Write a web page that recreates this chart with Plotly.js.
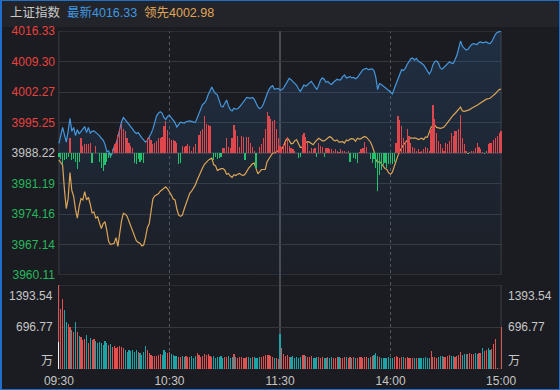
<!DOCTYPE html>
<html><head><meta charset="utf-8">
<script src="https://cdn.plot.ly/plotly-3.0.1.min.js"></script>
<style>
html,body{margin:0;padding:0;background:#1b1c21;}
#wrap{position:relative;width:560px;height:390px;overflow:hidden;}
#chart{width:560px;height:390px;}
#frame{position:absolute;left:0;top:0;width:560px;height:390px;box-sizing:border-box;border:1px solid #1f6fc8;border-left-width:2px;pointer-events:none;}
</style></head><body>
<div id="wrap"><div id="chart"></div><div id="frame"></div></div>
<script>
// ---------- data ----------
const indexName = '上证指数';
const prevClose = 3988.22;
const timeTicks = [0, 60, 120, 180, 240];
const timeLabels = ['09:30', '10:30', '11:30', '14:00', '15:00'];
const priceTicks = [4016.33, 4009.30, 4002.27, 3995.25, 3988.22, 3981.19, 3974.16, 3967.14, 3960.11];
const volTicks = [1393.54, 696.77];
const volUnit = '万';
const auctionVol = 453;

const price = [
3990.44,3992.22,3994.12,3992.42,3990.72,3993.22,3996.22,3993.22,3994.12,3992.22,
3993.62,3992.62,3993.12,3993.72,3994.32,3992.92,3994.12,3992.82,3993.22,3993.32,
3992.92,3992.72,3992.22,3991.62,3991.22,3990.22,3988.52,3988.72,3987.42,3988.22,
3989.72,3990.22,3992.22,3994.22,3995.42,3996.42,3995.92,3995.32,3994.92,3994.42,
3993.72,3993.12,3992.72,3992.92,3992.22,3991.72,3991.22,3990.72,3991.12,3991.82,
3992.72,3993.72,3995.22,3996.72,3997.42,3997.72,3997.42,3996.42,3995.92,3996.62,
3996.92,3996.42,3995.72,3995.22,3994.22,3994.92,3995.32,3995.22,3995.12,3995.42,
3995.52,3995.62,3995.52,3995.42,3995.22,3996.22,3997.22,3998.12,3999.42,3999.72,
4000.42,4001.62,4002.72,4003.42,4002.52,4001.92,4001.62,4000.52,3999.02,3998.82,
3999.62,4000.42,3999.12,3998.22,3997.92,3998.52,3998.32,3998.42,3998.82,3999.42,
4000.02,4000.52,4001.02,4000.92,4000.82,4001.02,4000.62,3999.72,3998.82,3998.42,
3998.72,3999.52,4000.82,4001.82,4002.82,4003.42,4003.72,4002.92,4003.02,4003.12,
4002.72,4002.82,4003.22,4003.92,4004.62,4005.42,4005.12,4004.62,4004.32,4003.82,
4003.02,4002.42,4003.12,4003.92,4003.62,4003.92,4004.42,4004.72,4004.12,4003.32,
4002.82,4003.82,4005.02,4005.52,4005.22,4004.52,4004.72,4004.22,4004.02,4004.52,
4004.82,4005.22,4005.02,4005.12,4005.82,4006.22,4005.52,4005.72,4005.82,4005.52,
4005.62,4005.32,4005.62,4006.22,4006.82,4007.42,4007.62,4007.72,4007.42,4007.52,
4007.62,4007.22,4005.72,4002.82,4004.22,4004.02,4003.72,4003.32,4002.92,4002.62,
4002.22,4001.82,4003.02,4004.22,4005.42,4006.52,4007.42,4007.22,4007.72,4008.62,
4009.42,4009.92,4010.12,4009.62,4010.02,4009.42,4009.12,4008.82,4008.52,4007.82,
4007.02,4006.42,4007.12,4008.52,4009.32,4009.42,4008.92,4007.82,4007.52,4007.92,
4008.22,4008.82,4009.22,4008.92,4008.82,4009.72,4010.72,4012.32,4014.02,4012.82,
4012.42,4011.92,4012.12,4012.82,4013.22,4013.42,4013.32,4013.22,4013.72,4013.82,
4013.62,4013.72,4013.82,4013.52,4013.42,4013.92,4014.92,4015.62,4016.02,4016.12,
4016.33];

const lead = [
3986.62,3986.12,3985.42,3979.72,3975.42,3977.72,3983.72,3979.62,3978.22,3975.22,
3973.22,3975.92,3977.72,3977.42,3979.32,3977.42,3978.02,3976.42,3974.42,3974.62,
3973.22,3973.52,3972.02,3970.82,3971.92,3972.42,3970.32,3967.82,3967.12,3967.22,
3967.42,3968.72,3966.72,3969.72,3972.62,3974.32,3974.12,3973.62,3972.42,3971.42,
3970.52,3968.92,3968.02,3967.62,3967.42,3966.82,3967.02,3968.72,3971.02,3971.92,
3974.72,3977.62,3978.32,3978.52,3978.82,3979.42,3979.82,3980.12,3980.42,3979.92,
3979.32,3978.52,3977.62,3977.42,3975.32,3973.92,3973.62,3973.92,3975.32,3976.62,
3978.02,3978.92,3979.42,3980.02,3980.82,3981.92,3983.02,3983.92,3984.82,3985.62,
3986.22,3986.52,3986.82,3987.02,3985.52,3985.32,3984.22,3984.42,3984.62,3984.62,
3984.32,3983.32,3983.52,3982.92,3982.62,3983.22,3983.02,3983.32,3983.52,3983.22,
3983.02,3983.32,3984.22,3984.72,3985.22,3985.72,3985.92,3984.82,3983.42,3983.92,
3984.42,3984.42,3984.42,3986.22,3986.92,3987.82,3988.22,3988.22,3988.42,3988.72,
3989.02,3989.22,3989.82,3991.02,3991.62,3991.12,3990.32,3990.42,3991.02,3991.32,
3990.42,3989.52,3989.52,3990.02,3990.62,3990.82,3990.72,3990.42,3990.12,3990.72,
3991.22,3991.62,3991.32,3991.02,3991.02,3991.32,3991.72,3992.02,3991.72,3991.22,
3991.02,3991.22,3990.72,3990.72,3990.82,3990.52,3991.22,3991.02,3991.42,3991.52,
3991.42,3990.92,3991.62,3991.42,3991.52,3991.82,3992.02,3991.82,3991.42,3990.82,
3989.92,3988.62,3986.72,3986.02,3986.32,3985.82,3985.12,3984.62,3984.42,3983.62,
3983.32,3983.82,3985.12,3986.62,3987.62,3988.62,3989.42,3990.12,3990.62,3991.22,
3991.62,3991.72,3991.62,3991.72,3991.62,3991.32,3991.52,3991.62,3991.32,3991.92,
3991.82,3993.02,3994.12,3994.52,3994.62,3994.12,3994.02,3993.92,3994.02,3994.22,
3994.72,3995.32,3995.82,3996.42,3996.92,3997.32,3997.82,3998.42,3998.82,3997.92,
3997.82,3997.92,3998.02,3998.22,3998.52,3998.72,3999.02,3999.22,3999.52,3999.82,
4000.02,4000.32,4000.62,4000.72,4000.82,4001.22,4001.52,4001.92,4002.42,4002.82,
4002.98];

const power = [
-3,-5,-9,-6,-5,-3,12,-6,-5,-7,
-13,-7,12,6,7,7,7,8,-8,0,
6,0,-7,-12,-15,-10,-7,-4,-4,3,
7,8,15,20,24,20,18,12,8,6,
4,-8,-9,-5,-7,-6,-8,0,12,13,
11,7,8,10,12,12,13,22,26,19,
12,11,11,10,8,-9,-8,6,5,6,
7,6,2,5,7,0,15,18,20,30,
24,23,22,0,-6,-3,-5,-4,-3,4,
4,12,5,4,12,23,19,14,5,14,
13,-6,13,13,8,5,2,-12,0,5,
7,12,20,34,30,28,26,27,20,12,
6,5,7,9,13,6,4,3,2,0,
-4,-3,15,16,13,9,2,4,3,4,
-3,8,6,5,-3,4,4,3,3,2,
3,2,1,3,2,2,1,2,-7,0,
-4,-5,-8,1,3,4,9,5,0,-5,
-8,-5,-12,-31,-18,-14,-10,-8,-12,-9,
-8,-9,-7,8,30,27,22,12,10,20,
14,8,5,4,2,3,1,2,3,5,
4,2,20,39,28,16,10,7,4,2,
8,7,10,16,14,18,18,20,31,12,
7,2,-1,1,2,2,4,8,5,3,
1,-1,2,7,8,8,11,12,14,16,
18];

const volume = [
1393.54,990,1156,979,785,746,702,647,619,785,
619,547,525,481,492,564,437,509,481,492,
470,426,453,437,398,470,426,398,415,371,
382,343,371,382,371,343,315,288,315,304,
315,288,315,288,260,232,288,382,315,260,
232,216,216,216,232,249,232,315,288,260,
288,249,232,216,216,205,194,216,194,216,
205,194,216,177,216,260,232,205,216,249,
232,249,216,194,216,183,194,205,216,188,
194,205,216,183,205,249,194,183,205,194,
188,177,199,194,183,205,194,177,188,199,
205,216,227,238,227,210,199,188,177,166,
580,343,249,216,232,205,194,216,188,205,
183,194,232,238,221,205,194,210,188,183,
199,205,188,194,177,188,199,183,194,188,
177,194,205,183,188,194,199,183,205,188,
194,183,177,194,205,188,199,194,183,205,
216,227,260,221,194,188,183,188,177,194,
183,188,205,210,199,188,205,199,188,194,
183,177,188,183,177,188,183,177,188,194,
183,188,304,199,194,188,205,210,221,199,
194,216,232,210,221,205,216,238,282,227,
243,254,249,260,243,254,265,249,260,271,
348,298,320,349,315,330,415,498,18,0,
700];

// ---------- styles ----------
const W = 560, H = 390;
const px = v => v / W;
const py = v => (H - v) / H;
const FONT = 'Liberation Sans, Arial, Noto Sans CJK SC, sans-serif';
const RED = '#e9413d', GREEN = '#26b85c', GRAY = '#c6c6c6';
const GRID = '#35373d';
const BLUE = '#4596dc', ORANGE = '#dca456';

const minutes = price.map((_, i) => i);
const yMax = priceTicks[0], yMin = priceTicks[priceTicks.length - 1];
const pct = p => (p - prevClose) / prevClose * 100;
const colorOf = p => p > prevClose + 1e-6 ? RED : (p < prevClose - 1e-6 ? GREEN : GRAY);
const priceText = priceTicks.map(p => `<span style="color:${colorOf(p)}">${p.toFixed(2)}</span>`);
const pctVals = priceTicks.map(pct);
const pctText = priceTicks.map(p => `<span style="color:${colorOf(p)}">${pct(p).toFixed(2)}%</span>`);

const volColors = volume.map((v, i) => {
  const prev = i === 0 ? prevClose : price[i - 1];
  if (price[i] > prev) return '#e2504f';
  if (price[i] < prev) return '#1ba5a6';
  return '#8c8c8c';
});
const powColors = power.map(v => v >= 0 ? '#e0474c' : '#20c46c');

const traces = [
  { type: 'scatter', mode: 'lines', x: minutes, y: price, xaxis: 'x', yaxis: 'y',
    line: { width: 0, color: BLUE }, fill: 'tozeroy',
    fillgradient: { type: 'vertical', start: yMin, stop: yMax,
      colorscale: [[0, 'rgba(50,115,190,0.03)'], [1, 'rgba(50,115,190,0.22)']] },
    hoverinfo: 'skip' },
  { type: 'bar', x: minutes, y: power, xaxis: 'x', yaxis: 'y3', width: 0.66,
    marker: { color: powColors, line: { width: 0 } }, hoverinfo: 'skip' },
  { type: 'scatter', mode: 'lines', x: minutes, y: lead, xaxis: 'x', yaxis: 'y',
    line: { width: 1.2, color: ORANGE } },
  { type: 'scatter', mode: 'lines', x: minutes, y: price, xaxis: 'x', yaxis: 'y',
    line: { width: 1.2, color: BLUE } },
  { type: 'bar', x: minutes, y: volume, xaxis: 'x', yaxis: 'y4', width: 0.62,
    marker: { color: volColors, line: { width: 0 } } },
  { type: 'bar', x: [0], y: [auctionVol], xaxis: 'x', yaxis: 'y4', width: 0.45, offset: -0.55,
    marker: { color: '#f2f2f2', line: { width: 0 } } }
];

const vline = (x, dash, color, w) => ({ type: 'line', layer: 'below', xref: 'x', yref: 'paper',
  x0: x, x1: x, y0: py(369), y1: py(31), line: { color: color, width: w, dash: dash } });

const layout = {
  width: W, height: H, margin: { l: 0, r: 0, t: 0, b: 0 },
  paper_bgcolor: '#1b1c21', plot_bgcolor: 'rgba(0,0,0,0)',
  showlegend: false, bargap: 0, barmode: 'overlay',
  font: { family: FONT, size: 12, color: GRAY },
  xaxis: { domain: [px(58), px(502)], range: [-0.5, 240.5], anchor: 'y4',
    tickvals: timeTicks, ticktext: timeLabels, showgrid: false, zeroline: false, showline: false,
    ticks: '', ticklabelstandoff: 3, tickfont: { family: FONT, size: 12, color: GRAY }, fixedrange: true },
  yaxis: { domain: [py(275), py(31)], range: [yMin, yMax], anchor: 'x',
    tickvals: priceTicks, ticktext: priceText, showgrid: true, gridcolor: GRID, gridwidth: 1,
    zeroline: false, showline: false, ticks: '', ticklabelstandoff: 2,
    tickfont: { family: FONT, size: 12 }, fixedrange: true },
  yaxis2: { overlaying: 'y', side: 'right', anchor: 'x', range: [pct(yMin), pct(yMax)],
    tickvals: pctVals, ticktext: pctText, showgrid: false, zeroline: false, showline: false,
    ticks: '', ticklabelstandoff: 5, tickfont: { family: FONT, size: 12 }, fixedrange: true },
  yaxis3: { overlaying: 'y', range: [-100, 100], visible: false, fixedrange: true },
  yaxis4: { domain: [py(369), py(285)], range: [0, volTicks[0]], anchor: 'x',
    tickvals: [volTicks[1]], showticklabels: false, showgrid: true, gridcolor: GRID,
    zeroline: false, showline: false, ticks: '', fixedrange: true },
  shapes: [
    { type: 'rect', layer: 'below', xref: 'paper', yref: 'paper', x0: 0, x1: 1, y0: py(27), y1: 1,
      fillcolor: '#222429', line: { width: 0 } },
    { type: 'line', layer: 'below', xref: 'x', yref: 'y', x0: 0, x1: 240, y0: prevClose, y1: prevClose,
      line: { color: '#45474d', width: 1 } },
    { type: 'rect', layer: 'below', xref: 'x', yref: 'y', x0: 0, x1: 240, y0: yMin, y1: yMax,
      line: { color: '#3c3e44', width: 1 } },
    { type: 'rect', layer: 'below', xref: 'x', yref: 'y4', x0: 0, x1: 240, y0: 0, y1: volTicks[0],
      line: { color: '#3c3e44', width: 1 } },
    vline(timeTicks[1], '3px,3px', '#56585e', 1),
    vline(timeTicks[2], 'solid', '#585a60', 1.5),
    vline(timeTicks[3], '3px,3px', '#56585e', 1)
  ],
  annotations: [
    { xref: 'paper', yref: 'paper', x: px(8), y: py(13), xanchor: 'left', yanchor: 'middle',
      text: indexName, showarrow: false, font: { family: FONT, size: 12.5, color: '#c8c8c8' } },
    { xref: 'paper', yref: 'paper', x: px(65), y: py(13), xanchor: 'left', yanchor: 'middle',
      text: '最新' + price[price.length - 1].toFixed(2), showarrow: false,
      font: { family: FONT, size: 12.5, color: '#3f97e0' } },
    { xref: 'paper', yref: 'paper', x: px(142), y: py(13), xanchor: 'left', yanchor: 'middle',
      text: '领先' + lead[lead.length - 1].toFixed(2), showarrow: false,
      font: { family: FONT, size: 12.5, color: '#e0a657' } },
    { xref: 'paper', yref: 'y4', x: px(55), y: volTicks[0], xanchor: 'right', yanchor: 'top', yshift: -2,
      text: volTicks[0].toFixed(2), showarrow: false, font: { family: FONT, size: 12, color: GRAY } },
    { xref: 'paper', yref: 'y4', x: px(55), y: volTicks[1], xanchor: 'right', yanchor: 'middle',
      text: volTicks[1].toFixed(2), showarrow: false, font: { family: FONT, size: 12, color: GRAY } },
    { xref: 'paper', yref: 'y4', x: px(55), y: 0, xanchor: 'right', yanchor: 'bottom', yshift: -1,
      text: volUnit, showarrow: false, font: { family: FONT, size: 12, color: GRAY } },
    { xref: 'paper', yref: 'y4', x: px(506), y: volTicks[0], xanchor: 'left', yanchor: 'top', yshift: -2,
      text: volTicks[0].toFixed(2), showarrow: false, font: { family: FONT, size: 12, color: GRAY } },
    { xref: 'paper', yref: 'y4', x: px(506), y: volTicks[1], xanchor: 'left', yanchor: 'middle',
      text: volTicks[1].toFixed(2), showarrow: false, font: { family: FONT, size: 12, color: GRAY } },
    { xref: 'paper', yref: 'y4', x: px(506), y: 0, xanchor: 'left', yanchor: 'bottom', yshift: -1,
      text: volUnit, showarrow: false, font: { family: FONT, size: 12, color: GRAY } }
  ]
};

Plotly.newPlot('chart', traces, layout, { staticPlot: true, displayModeBar: false });
</script>
</body></html>
